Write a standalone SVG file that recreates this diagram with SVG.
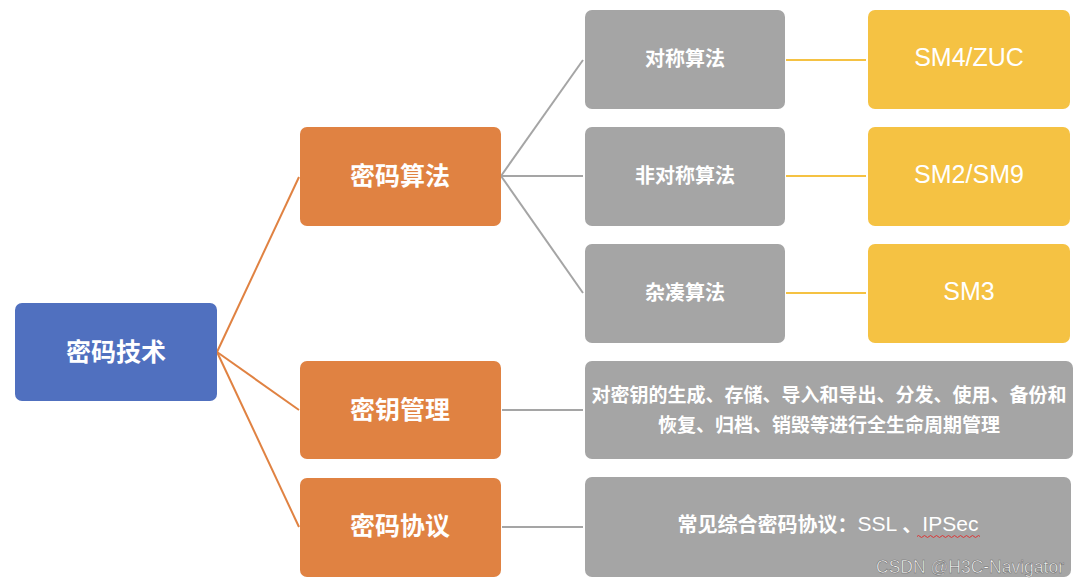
<svg xmlns="http://www.w3.org/2000/svg" width="1080" height="588" viewBox="0 0 1080 588">
<style>
.blue{fill:#5070BF}
.orange{fill:#E08242}
.gray{fill:#A5A5A5}
.yellow{fill:#F5C243}
.cn{font-family:"Noto Sans CJK SC","Liberation Sans",sans-serif;fill:#fff;font-weight:700;text-anchor:middle;dominant-baseline:central}
.lat{font-family:"Liberation Sans",Arial,sans-serif;fill:#fff;text-anchor:middle;dominant-baseline:central}
.lo{stroke:#E08242;stroke-width:2;fill:none}
.lg{stroke:#A5A5A5;stroke-width:2;fill:none}
.ly{stroke:#F5C243;stroke-width:2;fill:none}
</style>
<rect width="1080" height="588" fill="#fff"/>
<g id="connectors">
<line class="lo" x1="217" y1="352" x2="299" y2="177"/>
<line class="lo" x1="217" y1="352" x2="299" y2="410"/>
<line class="lo" x1="217" y1="352" x2="299" y2="527"/>
<line class="lg" x1="501" y1="176" x2="583" y2="60"/>
<line class="lg" x1="501" y1="176" x2="583" y2="176"/>
<line class="lg" x1="501" y1="176" x2="583" y2="293"/>
<line class="lg" x1="502" y1="410" x2="583" y2="410"/>
<line class="lg" x1="502" y1="527" x2="583" y2="527"/>
<line class="ly" x1="786" y1="60" x2="866" y2="60"/>
<line class="ly" x1="786" y1="176" x2="866" y2="176"/>
<line class="ly" x1="786" y1="293" x2="866" y2="293"/>
</g>
<g id="n-root"><rect class="blue" x="15" y="303" width="202" height="98" rx="7"/><text class="cn" x="116" y="350" font-size="25">密码技术</text></g>
<g id="n-alg"><rect class="orange" x="300" y="127" width="201" height="99" rx="7"/><text class="cn" x="400" y="174" font-size="25">密码算法</text></g>
<g id="n-key"><rect class="orange" x="300" y="361" width="201" height="98" rx="7"/><text class="cn" x="400" y="408" font-size="25">密钥管理</text></g>
<g id="n-proto"><rect class="orange" x="300" y="478" width="201" height="99" rx="7"/><text class="cn" x="400" y="524" font-size="25">密码协议</text></g>
<g id="n-sym"><rect class="gray" x="585" y="10" width="200" height="99" rx="7"/><text class="cn" x="685" y="57" font-size="20">对称算法</text></g>
<g id="n-asym"><rect class="gray" x="585" y="127" width="200" height="99" rx="7"/><text class="cn" x="685" y="174" font-size="20">非对称算法</text></g>
<g id="n-hash"><rect class="gray" x="585" y="244" width="200" height="99" rx="7"/><text class="cn" x="685" y="291" font-size="20">杂凑算法</text></g>
<g id="n-sm4"><rect class="yellow" x="868" y="10" width="202" height="99" rx="7"/><text class="lat" x="969" y="57" font-size="25">SM4/ZUC</text></g>
<g id="n-sm2"><rect class="yellow" x="868" y="127" width="202" height="99" rx="7"/><text class="lat" x="969" y="174" font-size="25">SM2/SM9</text></g>
<g id="n-sm3"><rect class="yellow" x="868" y="244" width="202" height="99" rx="7"/><text class="lat" x="969" y="291" font-size="25">SM3</text></g>
<g id="n-keydesc"><rect class="gray" x="585" y="361" width="488" height="98" rx="7"/>
<text class="cn" x="829" y="393" font-size="19">对密钥的生成、存储、导入和导出、分发、使用、备份和</text>
<text class="cn" x="829" y="423" font-size="19">恢复、归档、销毁等进行全生命周期管理</text></g>
<g id="n-protodesc"><rect class="gray" x="585" y="477" width="486" height="100" rx="7"/>
<text class="cn" x="828" y="523" font-size="20">常见综合密码协议：<tspan font-family="Liberation Sans,Arial,sans-serif" font-weight="400" font-size="21">SSL </tspan>、<tspan font-family="Liberation Sans,Arial,sans-serif" font-weight="400" font-size="21">IPSec</tspan></text>
<path d="M917 536.5 q1.5 -2 3 0 t3 0 t3 0 t3 0 t3 0 t3 0 t3 0 t3 0 t3 0 t3 0 t3 0 t3 0 t3 0 t3 0 t3 0 t3 0 t3 0 t3 0 t3 0 t3 0 t3 0" stroke="#D33" stroke-width="1" fill="none"/>
</g>
<text x="1064" y="573" font-family="Liberation Sans,Arial,sans-serif" font-size="17.5" text-anchor="end" fill="#fff" stroke="#666" stroke-width="0.5" opacity="0.9">CSDN @H3C-Navigator</text>
</svg>
